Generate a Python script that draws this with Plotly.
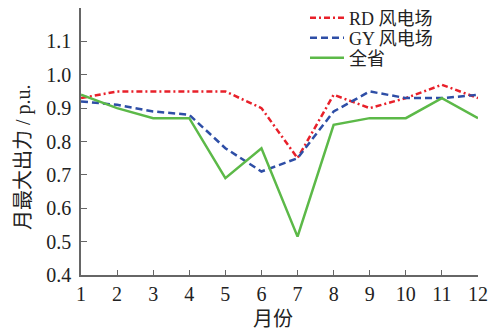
import plotly.graph_objects as go

months = list(range(1, 13))
rd_wind = [0.93, 0.95, 0.95, 0.95, 0.95, 0.90, 0.75, 0.94, 0.90, 0.93, 0.97, 0.93]
gy_wind = [0.92, 0.91, 0.89, 0.88, 0.78, 0.71, 0.75, 0.89, 0.95, 0.93, 0.93, 0.94]
province = [0.94, 0.90, 0.87, 0.87, 0.69, 0.78, 0.515, 0.85, 0.87, 0.87, 0.93, 0.87]

y_tickvals = [0.4, 0.5, 0.6, 0.7, 0.8, 0.9, 1.0, 1.1, 1.2]
y_ticktext = ["0.4", "0.5", "0.6", "0.7", "0.8", "0.9", "1.0", "1.1", ""]

serif = "Liberation Serif, Times New Roman, Noto Sans CJK SC, serif"

# plot area in pixels: x 81..478, y 8..275
L, R, T, B = 81, 16, 8, 55
W, H = 494, 330
pw, ph = W - L - R, H - T - B

fig = go.Figure()
fig.add_trace(go.Scatter(x=months, y=rd_wind, mode="lines", name="RD 风电场", legend="legend",
                         line=dict(color="#e8202a", width=2.5, dash="6px,3px,2px,3px")))
fig.add_trace(go.Scatter(x=months, y=gy_wind, mode="lines", name="GY 风电场", legend="legend2",
                         line=dict(color="#2e4ea6", width=2.5, dash="7px,4px")))
fig.add_trace(go.Scatter(x=months, y=province, mode="lines", name="全省", legend="legend3",
                         line=dict(color="#5cb948", width=2.5)))


def legend_at(cy):
    # one entry per legend box, placed so its row centre sits at pixel row cy
    return dict(x=(305 - L) / pw, y=(H - B - cy) / ph, xanchor="left", yanchor="middle",
                bgcolor="rgba(0,0,0,0)", font=dict(size=18, color="#222"),
                itemwidth=34, borderwidth=0)


def axis_label(text, px, py, angle=0):
    return dict(text=text, textangle=angle, xref="paper", yref="paper",
                x=(px - L) / pw, y=(H - B - py) / ph, xanchor="center", yanchor="middle",
                showarrow=False, font=dict(size=20, color="#222"))


fig.update_layout(
    width=W, height=H,
    margin=dict(l=L, r=R, t=T, b=B, autoexpand=False),
    paper_bgcolor="white", plot_bgcolor="white",
    font=dict(family=serif, size=20, color="#222"),
    showlegend=True,
    legend=legend_at(18),
    legend2=legend_at(38),
    legend3=legend_at(58),
    annotations=[axis_label("月最大出力 / p.u.", 23, 157, -90),
                 axis_label("月份", 273, 319)],
)
fig.update_xaxes(range=[1, 12], tickvals=months, showline=True, linecolor="#666",
                 linewidth=1.5, ticks="inside", ticklen=5, tickcolor="#666",
                 showgrid=False, zeroline=False, automargin=False)
fig.update_yaxes(range=[0.4, 1.2], tickvals=y_tickvals, ticktext=y_ticktext,
                 showline=True, linecolor="#666", linewidth=1.5, ticks="inside",
                 ticklen=6, tickcolor="#666", showgrid=False, zeroline=False,
                 ticklabelstandoff=4, automargin=False)

fig.write_html("out.html")
